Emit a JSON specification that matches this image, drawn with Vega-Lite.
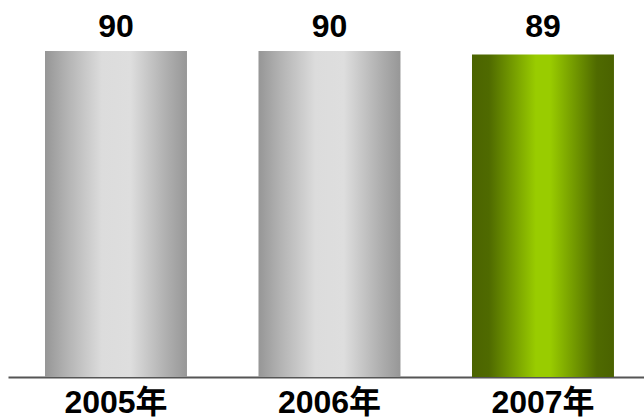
{
  "$schema": "https://vega.github.io/schema/vega-lite/v6.json",
  "autosize": "none",
  "width": 636,
  "height": 326,
  "padding": {"left": 8, "top": 51, "right": 0, "bottom": 43},
  "background": "white",
  "data": {"values": [
    {"year": "2005年", "value": 90},
    {"year": "2006年", "value": 90},
    {"year": "2007年", "value": 89}
  ]},
  "encoding": {
    "x": {"field": "year", "type": "nominal", "sort": null,
      "scale": {"paddingInner": 0.335, "paddingOuter": 0.157, "align": 0.552},
      "axis": {"title": null, "ticks": false, "labelAngle": 0, "labelFont": "Liberation Sans, Noto Sans CJK SC", "labelFontSize": 32, "labelFontWeight": "bold", "labelColor": "#000000", "labelBaseline": "alphabetic", "labelPadding": 35, "domainColor": "#555555", "domainWidth": 2}},
    "y": {"field": "value", "type": "quantitative", "scale": {"domain": [0, 90]}, "axis": null}
  },
  "layer": [
    {
      "transform": [{"filter": "datum.year !== '2007年'"}],
      "mark": {"type": "bar", "color": {"gradient": "linear", "x1": 0, "y1": 0, "x2": 1, "y2": 0, "stops": [
        {"offset": 0, "color": "#969696"},
        {"offset": 0.15, "color": "#b2b2b2"},
        {"offset": 0.4, "color": "#dcdcdc"},
        {"offset": 0.6, "color": "#dedede"},
        {"offset": 0.85, "color": "#b0b0b0"},
        {"offset": 1, "color": "#979797"}
      ]}}
    },
    {
      "transform": [{"filter": "datum.year === '2007年'"}],
      "mark": {"type": "bar", "color": {"gradient": "linear", "x1": 0, "y1": 0, "x2": 1, "y2": 0, "stops": [
        {"offset": 0, "color": "#4b6300"},
        {"offset": 0.12, "color": "#4f6a00"},
        {"offset": 0.45, "color": "#99cc00"},
        {"offset": 0.55, "color": "#99cc00"},
        {"offset": 0.88, "color": "#4f6a00"},
        {"offset": 1, "color": "#4a6200"}
      ]}}
    },
    {
      "mark": {"type": "text", "font": "Liberation Sans", "fontSize": 32, "fontWeight": "bold", "color": "#000000", "baseline": "alphabetic", "dy": -14},
      "encoding": {
        "y": {"datum": 90},
        "text": {"field": "value", "type": "quantitative"}
      }
    }
  ],
  "config": {"view": {"stroke": null}}
}
